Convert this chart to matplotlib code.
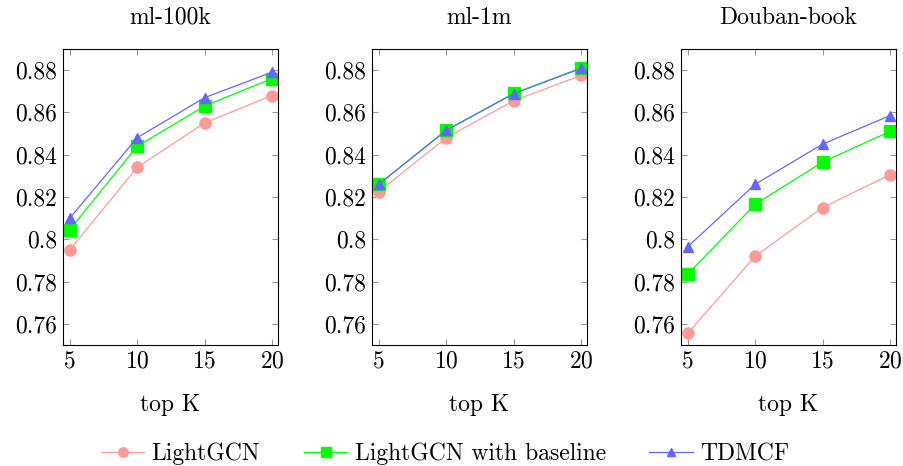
import numpy as np
import matplotlib
matplotlib.use('Agg')
import matplotlib.pyplot as plt
from matplotlib.ticker import MultipleLocator, FuncFormatter

plt.rcParams['font.family'] = ['cmr10', 'DejaVu Serif']
plt.rcParams['mathtext.fontset'] = 'cm'
plt.rcParams['axes.formatter.use_mathtext'] = True

# datos
top_k = [5, 10, 15, 20]
datasets = ['ml-100k', 'ml-1m', 'Douban-book']

lightgcn = [[0.795, 0.834, 0.855, 0.868],
            [0.8225, 0.848, 0.8655, 0.8775],
            [0.7555, 0.792, 0.815, 0.8305]]
lightgcn_base = [[0.8045, 0.844, 0.863, 0.876],
                 [0.826, 0.8515, 0.869, 0.881],
                 [0.7835, 0.8165, 0.8365, 0.851]]
tdmcf = [[0.810, 0.848, 0.867, 0.879],
         [0.826, 0.8515, 0.8688, 0.8808],
         [0.7965, 0.826, 0.845, 0.8585]]

names = ['LightGCN', 'LightGCN with baseline', 'TDMCF']
colores = ['#ff9999', '#00ff00', '#6666ff']
marcadores = ['o', 's', '^']
tamanos = [8, 8, 7]

fs = 17
fig = plt.figure(figsize=(9.04, 4.66), dpi=100)
lefts = [63, 372, 681]
W, H = 904, 466
for i, name in enumerate(datasets):
    ax = fig.add_axes([lefts[i] / W, 1 - 345 / H, 215 / W, 296 / H])
    series = [lightgcn[i], lightgcn_base[i], tdmcf[i]]
    for j, s in enumerate(series):
        ax.plot(top_k, s, color=colores[j], marker=marcadores[j], markersize=tamanos[j],
                linewidth=0.9, label=names[j])
    ax.set_xlim(4.5, 20.45)
    ax.set_ylim(0.75, 0.89)
    ax.set_xticks(top_k)
    ax.yaxis.set_major_locator(MultipleLocator(0.02))
    ax.yaxis.set_major_formatter(FuncFormatter(lambda v, p: '{:g}'.format(round(v, 2))))
    ax.tick_params(direction='in', length=4, color='#999999', labelsize=fs,
                   top=True, right=True, labelcolor='black', pad=4)
    ax.set_title(name, fontsize=fs, pad=18)
    ax.set_xlabel('top K', fontsize=fs, labelpad=15)
    for sp in ax.spines.values():
        sp.set_linewidth(0.8)
    if i == 0:
        handles, labels = ax.get_legend_handles_labels()

fig.legend(handles, labels, loc='center', bbox_to_anchor=(445 / W, 1 - 454 / H), ncol=3,
           frameon=False, fontsize=fs, handlelength=1.85, columnspacing=1.85,
           handletextpad=0.3, markerscale=0.85)

plt.savefig('out.png', dpi=100)
